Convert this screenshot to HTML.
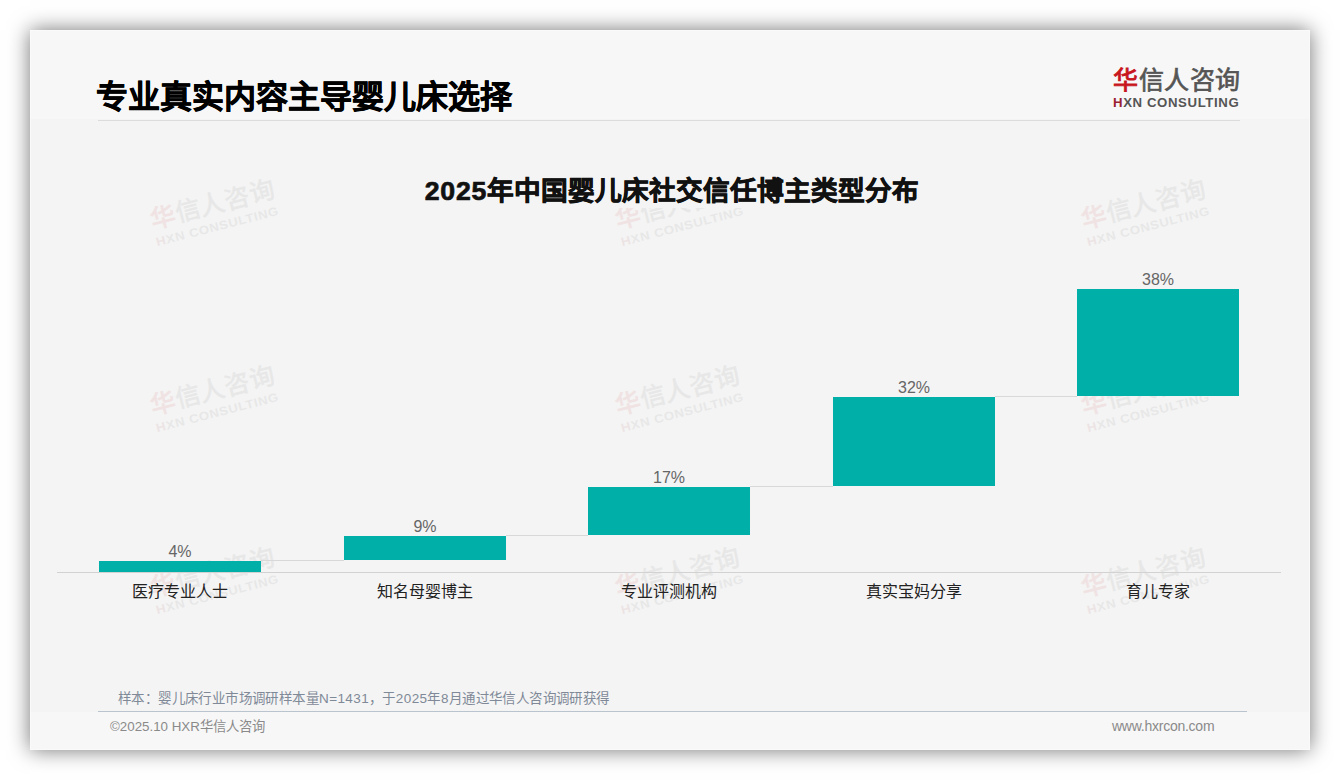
<!DOCTYPE html>
<html lang="zh-CN">
<head>
<meta charset="utf-8">
<style>
html,body{margin:0;padding:0;}
body{width:1340px;height:780px;background:#fff;position:relative;overflow:hidden;font-family:"Liberation Sans",sans-serif;}
.card{position:absolute;left:30px;top:30px;width:1280px;height:720px;background:#f4f4f4;box-shadow:0 0 20px rgba(0,0,0,0.55);overflow:hidden;}
.hdr{position:absolute;left:0;top:0;width:1280px;height:89px;background:#f7f7f7;}
.ftr{position:absolute;left:0;top:682px;width:1280px;height:38px;background:#f7f7f7;}
.abs{position:absolute;white-space:nowrap;}
.title{left:66px;top:47px;font-size:32px;font-weight:bold;color:#000;line-height:40px;-webkit-text-stroke:0.6px #000;}
.hline{left:68px;top:90px;width:1142px;height:1px;background:#dcdcdc;}
.logo{position:absolute;white-space:nowrap;width:130px;height:50px;}
.lcn{position:absolute;left:0;top:0;font-size:25px;line-height:30px;color:#555;letter-spacing:0.6px;-webkit-text-stroke:0.7px #555;}
.lcn .r{color:#c8161d;-webkit-text-stroke:0.9px #c8161d;}
.len{position:absolute;left:0;top:31px;font-size:12px;font-weight:bold;line-height:14px;color:#555;letter-spacing:0.55px;transform-origin:0 0;transform:scaleX(1.1);}
.ctitle{left:2px;width:1280px;text-align:center;top:144px;font-size:26.67px;font-weight:bold;color:#111;line-height:34px;-webkit-text-stroke:0.7px #111;}
.dg{letter-spacing:0.8px;}
.cbox{display:inline-block;background:#f4f4f4;padding:0 4px;height:34px;vertical-align:top;}
.bar{position:absolute;background:#00b0a8;}
.conn{position:absolute;height:1px;background:#d8d8d8;}
.axis{left:27px;top:542px;width:1224px;height:1px;background:#d2d2d2;}
.val{position:absolute;width:162px;text-align:center;font-size:16px;color:#666;line-height:18px;}
.cat{position:absolute;width:162px;text-align:center;font-size:16px;color:#222;line-height:20px;}
.note{left:88px;top:661px;font-size:13.5px;letter-spacing:0.4px;color:#7f8997;line-height:16px;}
.fline{left:68px;top:681px;width:1149px;height:1px;background:#b9c4cf;}
.copy{left:80px;top:689px;font-size:13.33px;color:#8a8a8a;line-height:16px;}
.url{left:1082px;top:688px;font-size:14px;letter-spacing:-0.25px;color:#8a8a8a;line-height:16px;}
.wm .len{top:31px;}
.wm{transform-origin:12.5px 14.5px;transform:rotate(-14.5deg);opacity:0.075;}
</style>
</head>
<body>
<div class="card">
  <div class="hdr"></div>
  <div class="ftr"></div>

  <div class="abs title">专业真实内容主导婴儿床选择</div>
  <div class="abs hline"></div>

  <div class="logo" style="left:1083px;top:35px;">
    <div class="lcn"><span class="r">华</span>信人咨询</div>
    <div class="len"><span style="color:#9a2232">H</span>XN CONSULTING</div>
  </div>

  <div class="logo wm" style="left:119.5px;top:171.5px;"><div class="lcn"><span class="r">华</span>信人咨询</div><div class="len"><span style="color:#9a2232">H</span>XN CONSULTING</div></div>
  <div class="logo wm" style="left:585.0px;top:171.5px;"><div class="lcn"><span class="r">华</span>信人咨询</div><div class="len"><span style="color:#9a2232">H</span>XN CONSULTING</div></div>
  <div class="logo wm" style="left:1050.5px;top:171.5px;"><div class="lcn"><span class="r">华</span>信人咨询</div><div class="len"><span style="color:#9a2232">H</span>XN CONSULTING</div></div>
  <div class="logo wm" style="left:119.5px;top:357.5px;"><div class="lcn"><span class="r">华</span>信人咨询</div><div class="len"><span style="color:#9a2232">H</span>XN CONSULTING</div></div>
  <div class="logo wm" style="left:585.0px;top:357.5px;"><div class="lcn"><span class="r">华</span>信人咨询</div><div class="len"><span style="color:#9a2232">H</span>XN CONSULTING</div></div>
  <div class="logo wm" style="left:1050.5px;top:357.5px;"><div class="lcn"><span class="r">华</span>信人咨询</div><div class="len"><span style="color:#9a2232">H</span>XN CONSULTING</div></div>
  <div class="logo wm" style="left:119.5px;top:539.5px;"><div class="lcn"><span class="r">华</span>信人咨询</div><div class="len"><span style="color:#9a2232">H</span>XN CONSULTING</div></div>
  <div class="logo wm" style="left:585.0px;top:539.5px;"><div class="lcn"><span class="r">华</span>信人咨询</div><div class="len"><span style="color:#9a2232">H</span>XN CONSULTING</div></div>
  <div class="logo wm" style="left:1050.5px;top:539.5px;"><div class="lcn"><span class="r">华</span>信人咨询</div><div class="len"><span style="color:#9a2232">H</span>XN CONSULTING</div></div>
  <div class="abs ctitle"><span class="cbox"><span class="dg">2025</span>年中国婴儿床社交信任博主类型分布</span></div>

  <div class="abs axis"></div>

  <!-- bars: x = 69, 314, 558, 803, 1047 (card coords) -->
  <div class="bar" style="left:69px;top:531px;width:162px;height:11px;"></div>
  <div class="bar" style="left:314px;top:506px;width:162px;height:24px;"></div>
  <div class="bar" style="left:558px;top:457px;width:162px;height:48px;"></div>
  <div class="bar" style="left:803px;top:367px;width:162px;height:89px;"></div>
  <div class="bar" style="left:1047px;top:259px;width:162px;height:107px;"></div>

  <div class="conn" style="left:231px;top:530px;width:83px;"></div>
  <div class="conn" style="left:476px;top:505px;width:82px;"></div>
  <div class="conn" style="left:720px;top:456px;width:83px;"></div>
  <div class="conn" style="left:965px;top:366px;width:82px;"></div>

  <div class="val" style="left:69px;top:513px;">4%</div>
  <div class="val" style="left:314px;top:488px;">9%</div>
  <div class="val" style="left:558px;top:439px;">17%</div>
  <div class="val" style="left:803px;top:349px;">32%</div>
  <div class="val" style="left:1047px;top:241px;">38%</div>

  <div class="cat" style="left:69px;top:552px;">医疗专业人士</div>
  <div class="cat" style="left:314px;top:552px;">知名母婴博主</div>
  <div class="cat" style="left:558px;top:552px;">专业评测机构</div>
  <div class="cat" style="left:803px;top:552px;">真实宝妈分享</div>
  <div class="cat" style="left:1047px;top:552px;">育儿专家</div>

  <div class="abs note">样本：婴儿床行业市场调研样本量N=1431，于2025年8月通过华信人咨询调研获得</div>
  <div class="abs fline"></div>
  <div class="abs copy">©2025.10 HXR华信人咨询</div>
  <div class="abs url">www.hxrcon.com</div>
  <div style="position:absolute;left:0;top:0;width:1278px;height:718px;border:1px solid #fafafa;"></div>
</div>
</body>
</html>
